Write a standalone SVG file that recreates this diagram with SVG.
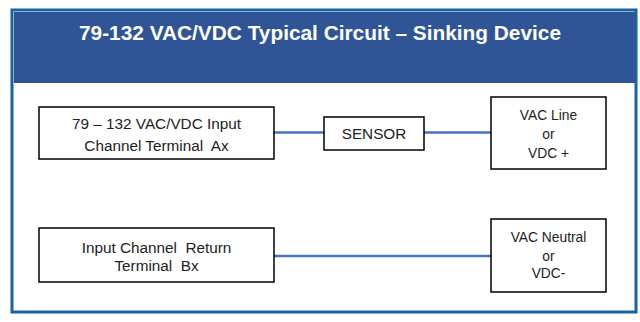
<svg xmlns="http://www.w3.org/2000/svg" width="640" height="322" viewBox="0 0 640 322" xml:space="preserve">
<style>
.box{fill:#fff;stroke:#000;stroke-width:1.5}
.t{font-family:"Liberation Sans",Arial,sans-serif;font-size:15.3px;fill:#222;text-anchor:middle;white-space:pre}
.c{font-family:"Liberation Sans",Arial,sans-serif;font-size:13.8px;fill:#222;text-anchor:middle}
.wire{stroke:#4472C4;stroke-width:2.5;fill:none}
</style>
<rect x="0" y="0" width="640" height="322" fill="#fff"/>
<g id="frame">
<rect x="12" y="10" width="624" height="302" fill="#fff" stroke="#1565A0" stroke-width="3"/>
<rect x="14" y="12" width="621" height="71" fill="#2F5597"/>
<text x="320" y="40" font-family="'Liberation Sans',Arial,sans-serif" font-weight="bold" font-size="20" fill="#fff" text-anchor="middle" textLength="482" lengthAdjust="spacingAndGlyphs">79-132 VAC/VDC Typical  Circuit – Sinking Device</text>
</g>
<g id="connectors">
<line class="wire" x1="274" y1="132.5" x2="324" y2="132.5"/>
<line class="wire" x1="424" y1="132.5" x2="491" y2="132.5"/>
<line class="wire" x1="274" y1="256" x2="491" y2="256"/>
</g>
<g id="inputA">
<rect class="box" x="39" y="107" width="235" height="52"/>
<text class="t" x="156.5" y="129">79 – 132 VAC/VDC Input</text>
<text class="t" x="156.5" y="150.5">Channel Terminal  Ax</text>
</g>
<g id="sensor">
<rect class="box" x="324" y="117" width="100" height="33"/>
<text class="t" x="374" y="139">SENSOR</text>
</g>
<g id="vacLine">
<rect class="box" x="491" y="97" width="115" height="72"/>
<text class="c" x="548.5" y="119.5">VAC Line</text>
<text class="c" x="548.5" y="139">or</text>
<text class="c" x="548.5" y="158">VDC +</text>
</g>
<g id="inputB">
<rect class="box" x="39" y="228" width="235" height="54"/>
<text class="t" x="156.5" y="253">Input Channel  Return</text>
<text class="t" x="156.5" y="270.5">Terminal  Bx</text>
</g>
<g id="vacNeutral">
<rect class="box" x="491" y="219" width="115" height="73"/>
<text class="c" x="548.5" y="242">VAC Neutral</text>
<text class="c" x="548.5" y="261">or</text>
<text class="c" x="548.5" y="278">VDC-</text>
</g>
</svg>
